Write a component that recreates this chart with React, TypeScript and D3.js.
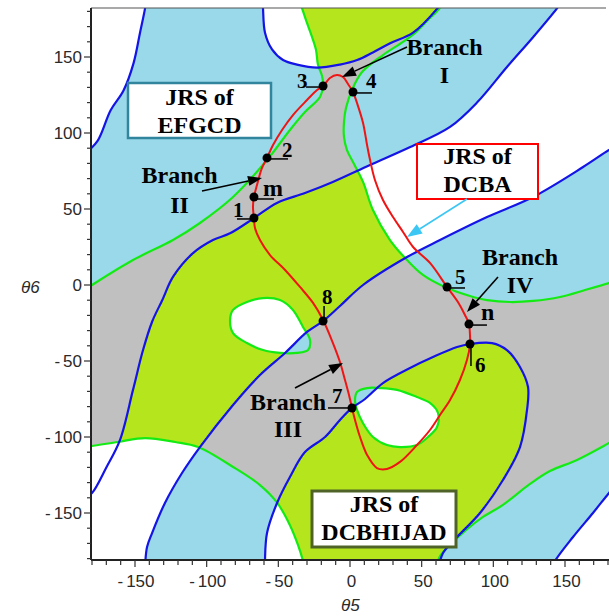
import React from 'react';
import * as d3 from 'd3';

type P = [number, number];

// Boundary curves of the joint rotation spaces, in degrees [θ5, θ6]
const blueTopLeft: P[] = [[-142.5, 186], [-143, 182], [-146.5, 166], [-151, 146], [-158, 128], [-167, 115], [-176, 95], [-184, 87]];
const blueTopCup: P[] = [[-61, 186], [-60.7, 182], [-59.3, 166], [-54.4, 155], [-46.7, 148], [-37, 145], [-23, 143], [-7, 145], [5, 148], [16, 153], [28, 159], [44, 166], [61, 182], [64, 186]];
const blueUpperLong: P[] = [[-184, -139], [-180, -136.8], [-170, -120], [-160.5, -102], [-151.4, -69], [-144.4, -42.8], [-138, -24], [-131, -10], [-123.5, 5.3], [-109.5, 21], [-95.6, 29.6], [-83.7, 34], [-67, 44], [-51, 54], [-31.4, 60.5], [-12, 67.8], [14, 79], [42, 90.8], [69.8, 104], [88.6, 120], [109.5, 143.4], [127.7, 163], [144.4, 182], [148, 187]];
const blueLowerLong: P[] = [[-143, -186], [-141.6, -172.4], [-138.1, -163.2], [-129.1, -143.4], [-117.2, -123.7], [-104.7, -106.6], [-81.6, -78.9], [-62.8, -59.2], [-45.3, -44.7], [-30, -30.9], [-18.8, -23.7], [-7, -13.8], [9.1, 0], [39.8, 18.4], [62.8, 29.6], [95.6, 44.7], [127.7, 57.9], [162.6, 77.6], [180.7, 88.8], [187, 92]];
const blueBottomCup: P[] = [[-59.3, -185], [-59.3, -181], [-57.9, -163.2], [-50.9, -143.4], [-41.9, -126.3], [-31.4, -109.9], [-17.4, -100], [-7, -88.8], [1.4, -80.9], [10.5, -75], [23, -64.5], [41.9, -54.6], [57.9, -47.4], [74.7, -40.8], [83.7, -38.8], [99.1, -38.2], [109.5, -42.8], [118.6, -53.9], [124.2, -67.1], [123.5, -82.2], [118.6, -106.6], [106.7, -128.3], [90.7, -150], [74.7, -165.8], [64.9, -176.3], [62.1, -184.9]];
const blueBottomRight: P[] = [[141, -186], [143, -181.6], [155.6, -165.8], [169.5, -150], [180.7, -136.8], [186, -131]];

const greenLeft: P[] = [[-185, -3], [-180, 0], [-151.4, 16.4], [-123.5, 29.6], [-104.7, 40.8], [-81.6, 57.9], [-57.9, 82.2], [-41.9, 102], [-31.4, 113.8], [-20.9, 123.7], [-18.8, 130.9], [-19.5, 137.5], [-22.3, 144.7], [-23.7, 154.6], [-26.5, 163.2], [-30, 172.4], [-33.5, 182.2], [-35, 186]];
const greenRight: P[] = [[64.9, 185.5], [62.1, 181.6], [53.7, 173.7], [46, 166.4], [37, 159.9], [23, 151.3], [8.4, 140.1], [1.4, 128.3], [-2.8, 116.4], [-4.2, 107.2], [-4.2, 97.4], [-2.1, 88.8], [2.1, 80.9], [9.1, 67.8], [16, 49.3], [27.9, 29.6], [38.4, 17.8], [50.9, 6.6], [67.7, -2], [83.7, -7.2], [95.6, -9.9], [111.6, -11.2], [127.7, -10.5], [146.5, -7.9], [164, -3.3], [180.7, 1.3], [187, 3.3]];
const greenLowerRight: P[] = [[187, -100.7], [180.7, -104], [158.4, -115.1], [139.5, -122.4], [125.6, -130.9], [106.7, -144.7], [92.8, -152.6], [80.2, -161.8], [69.8, -171], [62.8, -178.3], [60.7, -184.9]];
const greenLowerLeft: P[] = [[-186, -106.5], [-181, -106], [-162, -103.3], [-143, -100.7], [-122, -103.3], [-106, -106.6], [-81.6, -119.7], [-62.8, -131.6], [-51, -143], [-41.9, -158], [-36.3, -171], [-32.8, -181.6], [-32, -186]];
const holeLeft: P[] = [[-83.7, -23], [-81.6, -16.4], [-71.9, -11.2], [-60.7, -8.6], [-48.8, -9.9], [-39.8, -16.4], [-32.8, -27.6], [-27.9, -36.2], [-29.3, -42.8], [-37, -44.7], [-48.8, -44.7], [-60.7, -42.8], [-71.9, -38.2], [-81.6, -31.6]];
const holeLower: P[] = [[4.9, -70.4], [11.9, -67.8], [20.9, -67.8], [32.8, -69], [46.7, -73.7], [55.8, -77.6], [61.4, -84.2], [60.7, -93.4], [54.4, -100], [46.7, -105.3], [34.9, -106.6], [25.8, -105.3], [16, -100], [9, -90.8], [4.9, -82.2], [3.5, -75.7]];

// Coupler loop (branches I-IV)
const couplerLoop: P[] = [[2.1, 127], [4.9, 119.7], [9.1, 106.6], [11.9, 92.1], [14, 82.2], [17.4, 69.1], [23, 55.9], [30, 44.7], [37, 34.9], [44, 25], [55.8, 14.5], [67.7, -1.3], [75.3, -11.2], [80.2, -19.7], [83, -25.7], [83.7, -32.9], [83.7, -39.5], [81.6, -49.3], [76.7, -62.5], [69.8, -75.7], [62.8, -85.5], [55.8, -95.4], [46.7, -105.3], [34.9, -116.4], [25.8, -121], [18.8, -120.4], [11.9, -111.8], [7, -100], [3.5, -88.8], [1.4, -80.9], [-0.7, -72.4], [-3.5, -62.5], [-7, -50.7], [-11.9, -38.2], [-18.8, -23], [-25.8, -11.8], [-34.9, -1.3], [-45.3, 9.9], [-55.8, 19.7], [-62.8, 29.6], [-66.3, 37.5], [-67, 44.1], [-67.7, 51.3], [-67, 57.9], [-64.9, 65.8], [-61.4, 77], [-57.9, 83.6], [-53.7, 92.1], [-47.4, 102], [-39.8, 111.8], [-30, 121.7], [-23, 128.3], [-18.8, 130.9], [-14, 136.2], [-9.1, 138.2], [-4.9, 136.8], [-1.4, 132.2]];

// Marked configurations on the coupler loop
const markNames = ['1', 'm', '2', '3', '4', '5', 'n', '6', '7', '8'];
const markTheta5 = [-67, -67, -57.9, -18.8, 2.1, 67.7, 83, 83.7, 1.4, -18.8];
const markTheta6 = [44.1, 57.9, 83.6, 130.9, 127, -1.3, -25.7, -38.8, -80.9, -23.7];

const tickValues = d3.range(-180, 181, 10);
const tickLabels = [-150, -100, -50, 0, 50, 100, 150];

const LIGHTBLUE = '#99d9ea';
const LIME = '#b5e61d';
const GRAY = '#c0c0c0';
const BLUE = '#1414e6';
const GREEN = '#14eb14';
const RED = '#f01414';

const LEFT = 91, TOP = 8, RIGHT = 608, BOTTOM = 560;
const X = d3.scaleLinear().domain([-180, 180]).range([92, 608]);
const Y = d3.scaleLinear().domain([-180, 180]).range([558.6, 11.4]);

const smooth = d3.line<P>().x(d => X(d[0])).y(d => Y(d[1])).curve(d3.curveCatmullRom.alpha(0.5));
const smoothClosed = d3.line<P>().x(d => X(d[0])).y(d => Y(d[1])).curve(d3.curveCatmullRomClosed.alpha(0.5));
const straight = d3.line<P>().x(d => X(d[0])).y(d => Y(d[1]));
const rev = (a: P[]) => [...a].reverse();

function chain(parts: P[][]): string {
  return parts.map((p, i) => {
    const s = smooth(p) as string;
    return i ? 'L' + s.slice(1) : s;
  }).join('') + 'Z';
}

const blueRegion = chain([blueTopLeft, blueUpperLong, rev(blueTopCup)]) +
  chain([blueLowerLong, rev(blueBottomRight), rev(blueBottomCup)]);
const greenRegion = chain([greenLeft, greenRight, greenLowerRight, rev(greenLowerLeft)]) +
  (smoothClosed(holeLeft) as string) + (smoothClosed(holeLower) as string);
const leftEdgeGap = (straight([greenLowerLeft[0], greenLowerLeft[1], greenLowerLeft[2], blueUpperLong[3], blueUpperLong[2], blueUpperLong[1], blueUpperLong[0]]) as string) + 'Z';

const SERIF = '"Liberation Serif", "Times New Roman", serif';
const SANS = '"Liberation Sans", Arial, sans-serif';

function Arrow({ x1, y1, x2, y2, color = '#000', head = 14, width = 10 }: { x1: number; y1: number; x2: number; y2: number; color?: string; head?: number; width?: number }) {
  const a = Math.atan2(y2 - y1, x2 - x1);
  const bx = x2 - head * Math.cos(a), by = y2 - head * Math.sin(a);
  const nx = -Math.sin(a) * width / 2, ny = Math.cos(a) * width / 2;
  return (
    <g>
      <line x1={x1} y1={y1} x2={bx} y2={by} stroke={color} strokeWidth={1.6} />
      <path d={`M${x2},${y2}L${bx + nx},${by + ny}L${bx - nx},${by - ny}Z`} fill={color} />
    </g>
  );
}

function LabelBox({ x, y, w, h, stroke, sw, lines, baselines }: { x: number; y: number; w: number; h: number; stroke: string; sw: number; lines: string[]; baselines: number[] }) {
  return (
    <g>
      <rect x={x} y={y} width={w} height={h} fill="#fff" stroke={stroke} strokeWidth={sw} />
      {lines.map((t, i) => (
        <text key={i} x={x + w / 2} y={baselines[i]} textAnchor="middle" fontFamily={SERIF} fontWeight="bold" fontSize={24}>{t}</text>
      ))}
    </g>
  );
}

function BranchLabel({ cx, name, b1, b2 }: { cx: number; name: string; b1: number; b2: number }) {
  return (
    <g fontFamily={SERIF} fontWeight="bold" fontSize={24} textAnchor="middle">
      <text x={cx} y={b1}>Branch</text>
      <text x={cx} y={b2}>{name}</text>
    </g>
  );
}

// label placement relative to each mark: [text dx, text dy, leader x1, y1, x2, y2]
const markLayout: Record<string, number[]> = {
  '1': [-21, -1, -17, 1, 0, 1],
  'm': [9, -1, 0, 2, 20, 2],
  '2': [15, -1, 0, 1, 21, 1],
  '3': [-26, 2, -17, 1, 0, 1],
  '4': [13, -4, 0, 1, 19, 1],
  '5': [8, -3, 0, 1, 18, 1],
  'n': [12, -4, 0, 1, 18, 1],
  '6': [5, 28, 1, 0, 1, 22],
  '7': [-20, -5, -24, 0, 0, 0],
  '8': [-1, -17, 1, -15, 1, 0],
};

export default function App() {
  return (
    <svg width={609} height={616} style={{ position: 'absolute', left: 0, top: 0, background: '#fff' }}>
      <defs>
        <clipPath id="plotArea"><rect x={LEFT} y={TOP} width={RIGHT - LEFT + 2} height={BOTTOM - TOP} /></clipPath>
        <clipPath id="blueArea"><path d={blueRegion} /></clipPath>
      </defs>
      <g clipPath="url(#plotArea)">
        <rect x={LEFT} y={TOP} width={RIGHT - LEFT + 2} height={BOTTOM - TOP} fill="#fff" />
        <path d={blueRegion} fill={LIGHTBLUE} />
        <path d={greenRegion} fill={LIME} fillRule="evenodd" />
        <g clipPath="url(#blueArea)">
          <path d={greenRegion} fill={GRAY} fillRule="evenodd" />
        </g>
        <path d={leftEdgeGap} fill="#fff" />
        {[greenLeft, greenRight, greenLowerRight, greenLowerLeft].map((c, i) => (
          <path key={'g' + i} d={smooth(c) as string} fill="none" stroke={GREEN} strokeWidth={2.2} />
        ))}
        {[holeLeft, holeLower].map((c, i) => (
          <path key={'h' + i} d={smoothClosed(c) as string} fill="none" stroke={GREEN} strokeWidth={2.2} />
        ))}
        {[blueTopLeft, blueTopCup, blueUpperLong, blueLowerLong, blueBottomCup, blueBottomRight].map((c, i) => (
          <path key={'b' + i} d={smooth(c) as string} fill="none" stroke={BLUE} strokeWidth={2.2} />
        ))}
        <path d={smoothClosed(couplerLoop) as string} fill="none" stroke={RED} strokeWidth={2} />
      </g>

      {/* frame and axes */}
      <line x1={LEFT} y1={TOP} x2={RIGHT - 2} y2={TOP} stroke="#555" strokeWidth={1.2} />
      <line x1={LEFT} y1={TOP} x2={LEFT} y2={BOTTOM} stroke="#222" strokeWidth={2} />
      <line x1={LEFT} y1={BOTTOM} x2={609} y2={BOTTOM} stroke="#222" strokeWidth={2} />
      {tickValues.map(v => {
        const major = v % 50 === 0;
        return (
          <g key={'t' + v} stroke="#333" strokeWidth={1.2}>
            <line x1={LEFT} x2={LEFT - (major ? 7 : 4)} y1={Y(v)} y2={Y(v)} />
            <line x1={X(v)} x2={X(v)} y1={BOTTOM} y2={BOTTOM + (major ? 7 : 5)} />
          </g>
        );
      })}
      {tickLabels.map(v => (
        <g key={'l' + v} fontFamily={SANS} fontSize={17} fill="#2a2a2a">
          <text x={82} y={Y(v) + 6} textAnchor="end">{v < 0 ? <>-<tspan dx={3}>{Math.abs(v)}</tspan></> : v}</text>
          <text x={X(v) + (v < 0 ? 1 : 1.5)} y={587} textAnchor="middle">{v < 0 ? <>-<tspan dx={3}>{Math.abs(v)}</tspan></> : v}</text>
        </g>
      ))}
      <text x={21} y={293} fontFamily={SANS} fontStyle="italic" fontSize={17} fill="#2a2a2a">θ6</text>
      <text x={341} y={611} fontFamily={SANS} fontStyle="italic" fontSize={17} fill="#2a2a2a">θ5</text>

      {/* annotations */}
      <LabelBox x={128} y={83} w={143} h={55} stroke="#31859c" sw={2.5} lines={['JRS of', 'EFGCD']} baselines={[105, 133]} />
      <LabelBox x={417} y={144} w={121} h={55} stroke="#ff0000" sw={2} lines={['JRS of', 'DCBA']} baselines={[164, 192]} />
      <LabelBox x={312} y={491} w={144} h={56} stroke="#4f6228" sw={3} lines={['JRS of', 'DCBHIJAD']} baselines={[512, 540]} />
      <Arrow x1={467} y1={199} x2={407} y2={237} color="#3cc6f4" head={15} width={11} />

      <BranchLabel cx={444.5} name="I" b1={55} b2={83} />
      <BranchLabel cx={179.5} name="II" b1={183} b2={213} />
      <BranchLabel cx={288} name="III" b1={410} b2={437} />
      <BranchLabel cx={520} name="IV" b1={265} b2={293} />
      <Arrow x1={407} y1={47} x2={342} y2={77} />
      <Arrow x1={202} y1={191} x2={262} y2={178} />
      <Arrow x1={295} y1={388} x2={343} y2={363} />
      <Arrow x1={498} y1={277} x2={467} y2={312} />

      {markNames.map((name, i) => {
        const cx = X(markTheta5[i]), cy = Y(markTheta6[i]);
        const [tx, ty, lx1, ly1, lx2, ly2] = markLayout[name];
        const isLetter = name === 'm' || name === 'n';
        return (
          <g key={'m' + name}>
            <line x1={cx + lx1} y1={cy + ly1} x2={cx + lx2} y2={cy + ly2} stroke="#000" strokeWidth={1.5} />
            <circle cx={cx} cy={cy} r={4.5} fill="#000" />
            <text x={cx + tx} y={cy + ty} fontFamily={SERIF} fontWeight="bold" fontSize={isLetter ? 24 : 21}>{name}</text>
          </g>
        );
      })}
    </svg>
  );
}
